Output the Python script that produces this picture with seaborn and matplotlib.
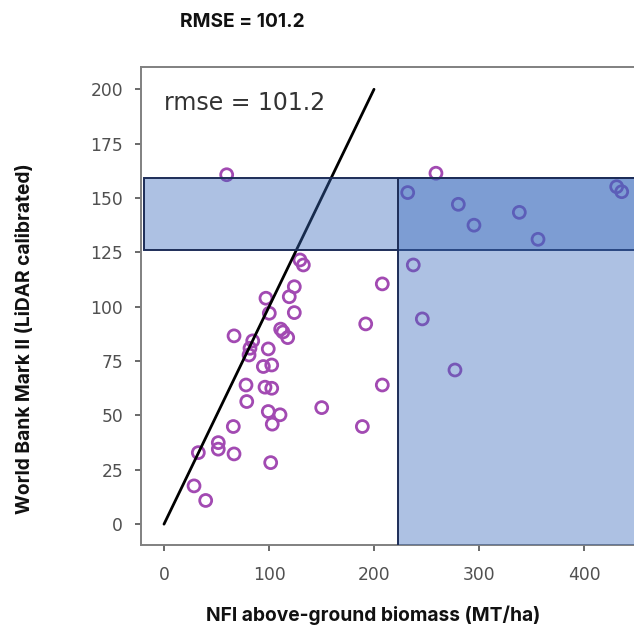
import matplotlib
matplotlib.use("Agg")
import matplotlib.pyplot as plt
from matplotlib.patches import Rectangle
import seaborn as sns
import pandas as pd

# NFI plot biomass vs. LiDAR-calibrated World Bank Mark II estimates
nfi_biomass = [
    59.7, 259.0, 232.1, 280.3, 295.2, 338.4, 356.2, 431.1, 435.9, 237.4,
    246.0, 277.1, 207.9, 192.1, 207.9, 150.2, 188.9, 129.5, 132.7, 124.1,
    119.3, 97.1, 100.3, 124.1, 66.7, 111.1, 113.3, 117.8, 84.5, 81.9,
    81.0, 99.3, 94.6, 102.6, 78.1, 96.2, 102.6, 78.8, 99.3, 110.5,
    103.1, 66.0, 51.7, 51.7, 32.7, 66.7, 101.6, 28.6, 39.7,
]
wb_mark2 = [
    160.7, 161.4, 152.5, 147.1, 137.5, 143.4, 131.0, 155.2, 152.9, 119.2,
    94.4, 70.9, 110.5, 92.1, 64.0, 53.6, 44.9, 121.5, 119.2, 109.2,
    104.6, 103.9, 97.0, 97.3, 86.6, 89.7, 88.4, 85.8, 84.3, 80.9,
    77.8, 80.6, 72.5, 73.2, 64.0, 63.0, 62.5, 56.4, 51.8, 50.3,
    46.0, 44.9, 37.5, 34.5, 32.9, 32.3, 28.3, 17.6, 10.9,
]

# 1:1 reference line
one_to_one = [0, 200]

# highlighted regions: (x0, x1, y0, y1)
band_x = [-19, 470]
band_y = [126.1, 159.1]
block_x = [223, 470]
block_y = [-15, 159.1]

rmse_value = 101.2
x_ticks = [0, 100, 200, 300, 400]
y_ticks = [0, 25, 50, 75, 100, 125, 150, 175, 200]

sns.set_style("ticks")
plt.rcParams["font.family"] = ["DejaVu Sans"]

fig = plt.figure(figsize=(6.34, 6.29), dpi=100)
ax = fig.add_axes([0.2219, 0.1328, 0.7781, 0.7612])

df = pd.DataFrame({"nfi": nfi_biomass, "wb": wb_mark2})
sns.scatterplot(data=df, x="nfi", y="wb", ax=ax, marker="o",
                facecolors="none", edgecolor="#a24ab2", linewidth=2.0,
                s=74, zorder=2)

sns.lineplot(x=one_to_one, y=one_to_one, ax=ax, color="black",
             linewidth=2.0, zorder=3)

face = (0.224, 0.417, 0.741, 0.41)
edge = "#1d2d58"
for xs, ys in [(band_x, band_y), (block_x, block_y)]:
    ax.add_patch(Rectangle((xs[0], ys[0]), xs[1] - xs[0], ys[1] - ys[0],
                           facecolor=face, edgecolor=edge, linewidth=1.4,
                           zorder=4))

ax.text(0, 193.7, f"rmse = {rmse_value}", fontsize=17, color="#333333",
        ha="left", va="center")

ax.set_xlim(-22.2, 447.6)
ax.set_ylim(-9.8, 210.4)
ax.set_xticks(x_ticks)
ax.set_yticks(y_ticks)
ax.set_xlabel("")
ax.set_ylabel("")
ax.tick_params(axis="both", labelsize=12.3, colors="#505050",
               length=4, width=1.2)
ax.tick_params(axis="x", pad=10.5)
ax.tick_params(axis="y", pad=8.7)
for name in ["left", "bottom", "top"]:
    ax.spines[name].set_color("#808080")
    ax.spines[name].set_linewidth(1.4)
ax.spines["right"].set_visible(False)

outer = dict(family=["Inter", "DejaVu Sans"], weight="bold", color="#111111")
fig.text(180 / 634, 1 - 21.7 / 629, f"RMSE = {rmse_value}", ha="left",
         va="center", fontsize=13.8, **outer)
fig.text(373 / 634, 1 - 615 / 629, "NFI above-ground biomass (MT/ha)",
         ha="center", va="center", fontsize=13.8, **outer)
fig.text(25 / 634, 1 - 339 / 629, "World Bank Mark II (LiDAR calibrated)",
         ha="center", va="center", rotation=90, fontsize=13.8, **outer)

fig.savefig("out.png", dpi=100)
